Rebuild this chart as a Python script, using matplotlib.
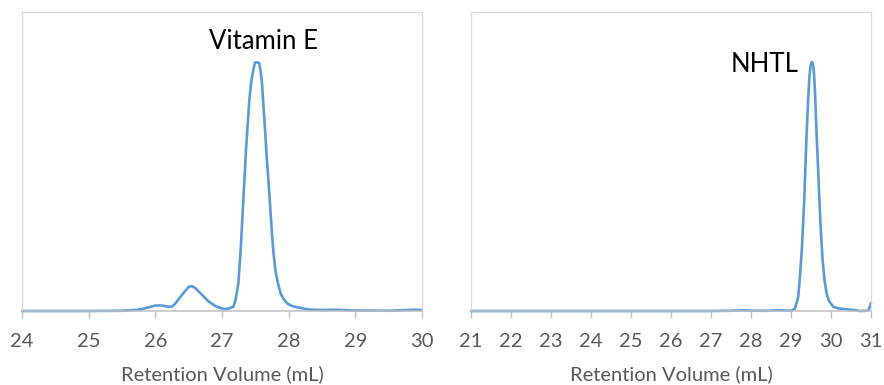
import matplotlib.pyplot as plt

plt.rcParams['font.family'] = ['Lato', 'DejaVu Sans']

# Vitamin E trace (retention volume mL, relative signal)
vite_x = [24.0, 25.0, 25.5, 25.7, 25.8, 25.9, 26.0, 26.1, 26.2, 26.25, 26.3,
          26.4, 26.5, 26.55, 26.6, 26.7, 26.8, 26.9, 27.0, 27.05, 27.1, 27.17,
          27.2, 27.22, 27.245, 27.28, 27.32, 27.36, 27.41, 27.44, 27.47,
          27.495, 27.53, 27.56, 27.58, 27.6, 27.62, 27.65, 27.67, 27.7, 27.72,
          27.75, 27.77, 27.8, 27.84, 27.88, 27.92, 27.98, 28.05, 28.13, 28.3,
          28.5, 28.7, 29.0, 29.5, 29.8, 29.9, 30.0]
vite_y = [0.0, 0.0, 0.001, 0.004, 0.008, 0.015, 0.022, 0.022, 0.017, 0.018,
          0.03, 0.065, 0.097, 0.1, 0.092, 0.065, 0.038, 0.02, 0.01, 0.008,
          0.01, 0.017, 0.04, 0.07, 0.11, 0.245, 0.445, 0.646, 0.847, 0.925,
          0.967, 0.997, 0.998, 0.994, 0.96, 0.914, 0.83, 0.71, 0.62, 0.51,
          0.43, 0.31, 0.24, 0.165, 0.11, 0.07, 0.05, 0.03, 0.02, 0.015, 0.006,
          0.004, 0.005, 0.002, 0.001, 0.004, 0.005, 0.004]

# NHTL trace
nhtl_x = [21.0, 24.0, 27.0, 27.5, 27.8, 28.1, 28.4, 28.7, 29.0, 29.1, 29.18,
          29.22, 29.27, 29.3, 29.33, 29.36, 29.39, 29.43, 29.46, 29.49, 29.52,
          29.55, 29.575, 29.6, 29.64, 29.67, 29.71, 29.74, 29.79, 29.84,
          29.89, 29.95, 30.06, 30.2, 30.39, 30.6, 30.73, 30.9, 30.94, 31.0]
nhtl_y = [0.0, 0.0, 0.0, 0.001, 0.003, 0.001, 0.001, 0.003, 0.001, 0.01,
          0.057, 0.13, 0.245, 0.34, 0.445, 0.58, 0.71, 0.85, 0.94, 0.985, 1.0,
          0.99, 0.955, 0.88, 0.71, 0.6, 0.445, 0.34, 0.205, 0.12, 0.07, 0.04,
          0.017, 0.01, 0.007, 0.003, 0.0, 0.001, 0.004, 0.032]

line_color = '#5B9BD5'
frame_color = '#D9D9D9'
axis_color = '#BFBFBF'
text_color = '#595959'

fig = plt.figure(figsize=(8.84, 3.85), dpi=100)
ax1 = fig.add_axes([22 / 884, 1 - 311 / 385, 400 / 884, 299 / 385])
ax2 = fig.add_axes([471 / 884, 1 - 311 / 385, 400 / 884, 299 / 385])

panels = [
    (ax1, vite_x, vite_y, (24, 30), range(24, 31), 'Vitamin E', (27.63, 1.05)),
    (ax2, nhtl_x, nhtl_y, (21, 31), range(21, 32), 'NHTL', (28.35, 0.96)),
]

for ax, xs, ys, xlim, ticks, name, (tx, ty) in panels:
    ax.plot(xs, ys, color=line_color, lw=1.9, solid_joinstyle='round',
            solid_capstyle='round', clip_on=False)
    ax.set_xlim(*xlim)
    ax.set_ylim(0, 1.2)
    ax.set_xticks(list(ticks))
    ax.set_yticks([])
    for side in ['top', 'left', 'right']:
        ax.spines[side].set_color(frame_color)
        ax.spines[side].set_linewidth(0.9)
    ax.spines['bottom'].set_color(axis_color)
    ax.spines['bottom'].set_linewidth(1.1)
    ax.tick_params(axis='x', length=5, width=1, color=axis_color,
                   labelsize=14.5, labelcolor=text_color, pad=11)
    ax.set_xlabel('Retention Volume (mL)', fontsize=14.5, color=text_color,
                  labelpad=11)
    ax.text(tx, ty, name, fontsize=18.5, color='black', ha='center',
            va='baseline')

fig.savefig('out.png', dpi=100)
